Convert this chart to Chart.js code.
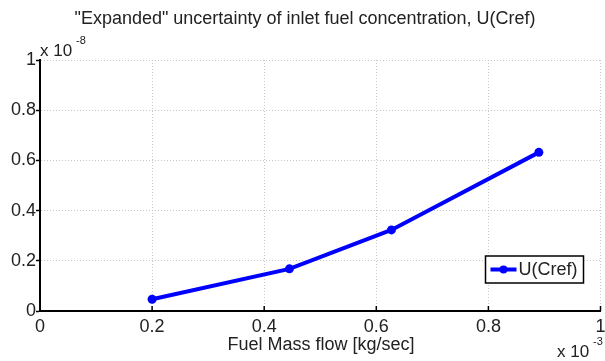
<!DOCTYPE html>
<html>
<head>
<meta charset="utf-8">
<script src="https://cdn.jsdelivr.net/npm/chart.js@4/dist/chart.umd.min.js"></script>
<style>
  html, body { margin: 0; padding: 0; background: #fff; }
  #wrap { width: 605px; height: 361px; position: relative; }
</style>
</head>
<body>
<div id="wrap"><canvas id="c" width="605" height="361"></canvas></div>
<script>
// Fuel mass flow (units of 1e-3 kg/sec) and expanded uncertainty U(Cref) (units of 1e-8)
const massFlow = [0.2, 0.445, 0.627, 0.89];
const uCref = [0.047, 0.168, 0.323, 0.632];
const xTicks = [0, 0.2, 0.4, 0.6, 0.8, 1];
const yTicks = [0, 0.2, 0.4, 0.6, 0.8, 1];
const xExponent = '-3';
const yExponent = '-8';
const titleText = '"Expanded" uncertainty of inlet fuel concentration, U(Cref)';
const xLabel = 'Fuel Mass flow [kg/sec]';
const seriesName = 'U(Cref)';

const FONT = '"Liberation Sans", Arial, Helvetica, sans-serif';
const TEXT = '#222';
const BLUE = '#0000ff';

function tickLabel(v) { return v === 0 || v === 1 ? String(v) : v.toFixed(1); }

// Title, exponent labels, inward x ticks and the boxed legend
const decorations = {
  id: 'decorations',
  afterDraw(chart) {
    const ctx = chart.ctx;
    const a = chart.chartArea;
    const xs = chart.scales.x;
    ctx.save();
    // inward tick marks on the x axis
    ctx.strokeStyle = '#000';
    ctx.lineWidth = 1.5;
    xTicks.forEach(v => {
      const px = xs.getPixelForValue(v);
      ctx.beginPath();
      ctx.moveTo(px, a.bottom);
      ctx.lineTo(px, a.bottom - 5);
      ctx.stroke();
    });

    ctx.fillStyle = TEXT;
    ctx.textBaseline = 'middle';
    // title
    ctx.font = '18px ' + FONT;
    ctx.textAlign = 'center';
    ctx.fillText(titleText, 305, 19);

    // y exponent
    ctx.textAlign = 'left';
    ctx.font = '17px ' + FONT;
    ctx.fillText('x 10', 40, 51);
    ctx.font = '11px ' + FONT;
    ctx.fillText(yExponent, 76, 41);

    // x exponent
    ctx.font = '17px ' + FONT;
    ctx.fillText('x 10', 557, 352);
    ctx.font = '11px ' + FONT;
    ctx.fillText(xExponent, 593, 342);

    // x axis label
    ctx.font = '18px ' + FONT;
    ctx.textAlign = 'center';
    ctx.fillText(xLabel, 321, 345);

    // legend
    const bx = a.right - 115, by = a.bottom - 55, bw = 98, bh = 27;
    ctx.fillStyle = '#fff';
    ctx.fillRect(bx, by, bw, bh);
    ctx.strokeStyle = '#000';
    ctx.lineWidth = 1.5;
    ctx.strokeRect(bx, by, bw, bh);
    const cy = by + bh / 2;
    ctx.strokeStyle = BLUE;
    ctx.lineWidth = 4;
    ctx.beginPath();
    ctx.moveTo(bx + 5, cy);
    ctx.lineTo(bx + 31, cy);
    ctx.stroke();
    ctx.fillStyle = BLUE;
    ctx.beginPath();
    ctx.arc(bx + 18, cy, 4, 0, Math.PI * 2);
    ctx.fill();
    ctx.fillStyle = TEXT;
    ctx.font = '18px ' + FONT;
    ctx.textAlign = 'left';
    ctx.fillText(seriesName, bx + 33, cy + 1);
    ctx.restore();
  }
};

new Chart(document.getElementById('c'), {
  type: 'line',
  data: {
    datasets: [{
      label: seriesName,
      data: massFlow.map((x, i) => ({ x, y: uCref[i] })),
      borderColor: BLUE,
      backgroundColor: BLUE,
      borderWidth: 4,
      pointRadius: 4.5,
      pointHoverRadius: 4.5,
      pointBorderWidth: 0,
      tension: 0,
      fill: false
    }]
  },
  options: {
    responsive: false,
    animation: false,
    devicePixelRatio: 1,
    layout: { padding: { top: 60, right: 2, left: 0, bottom: 0 } },
    plugins: { legend: { display: false }, title: { display: false }, tooltip: { enabled: false } },
    scales: {
      x: {
        type: 'linear',
        min: 0, max: 1,
        afterBuildTicks(s) { s.ticks = xTicks.map(v => ({ value: v })); },
        afterFit(s) { s.height = 50; s.paddingLeft = 0; s.paddingRight = 0; },
        ticks: {
          color: TEXT, padding: 5,
          font: { family: FONT, size: 18 },
          callback: v => tickLabel(v),
          maxRotation: 0, autoSkip: false
        },
        grid: { color: '#c8c8c8', lineWidth: 1, drawTicks: false },
        border: { display: true, color: '#000', width: 2, dash: [1, 2] }
      },
      y: {
        type: 'linear',
        min: 0, max: 1,
        afterBuildTicks(s) { s.ticks = yTicks.map(v => ({ value: v })); },
        afterFit(s) { s.width = 40; s.paddingTop = 0; s.paddingBottom = 0; },
        ticks: {
          color: TEXT, padding: 0,
          font: { family: FONT, size: 18 },
          callback: v => tickLabel(v)
        },
        grid: { color: '#c8c8c8', lineWidth: 1, drawTicks: true, tickLength: 4, tickColor: '#000', tickWidth: 1.5 },
        border: { display: true, color: '#000', width: 2, dash: [1, 2] }
      }
    }
  },
  plugins: [decorations]
});
</script>
</body>
</html>
